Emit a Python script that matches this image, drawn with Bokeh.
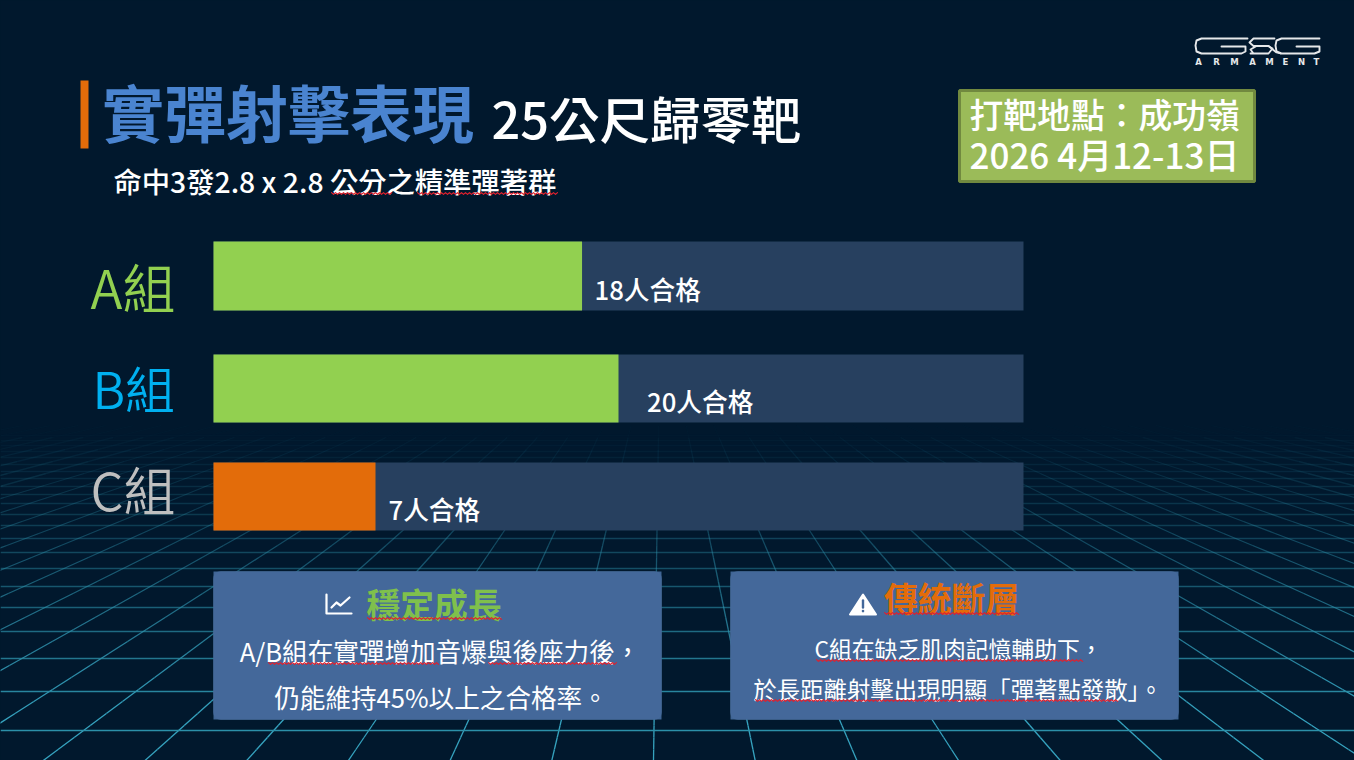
from bokeh.plotting import figure
from bokeh.embed import file_html
from bokeh.resources import INLINE
from bokeh.core.properties import value
from bokeh.models import Range1d, BoxAnnotation, GlobalInlineStyleSheet
import numpy as np

# ---- data ----
groups = ["A組", "B組", "C組"]
pass_share = [45.5, 50, 20]          # bar length, % of the track
track_total = [100, 100, 100]
pass_labels = ["18人合格", "20人合格", "7人合格"]
title_main = "實彈射擊表現"
title_sub = "25公尺歸零靶"
subtitle = "命中3發2.8 x 2.8 公分之精準彈著群"
place_lines = ["打靶地點：成功嶺", "2026 4月12-13日"]
panel_titles = ["穩定成長", "傳統斷層"]
panel_left_lines = ["A/B組在實彈增加音爆與後座力後，", "仍能維持45%以上之合格率。"]
panel_right_lines = ["C組在缺乏肌肉記憶輔助下，", "於長距離射擊出現明顯「彈著點發散」。"]

# ---- layout (pixels) ----
W, H = 1354, 760
BG = "#01182d"
FONT = value("Noto Sans CJK TC")
MEDIUM = value("Noto Sans CJK TC Medium")
DEMILIGHT = value("Noto Sans CJK TC DemiLight")
BAR_X0, BAR_X1 = 213, 1023
px_per = (BAR_X1 - BAR_X0) / 100
bar_y = [275.5, 388, 496]
bar_h = [69, 68, 68]
bar_colors = ["#92d050", "#92d050", "#e36c0a"]
label_colors = ["#92d050", "#00b0f0", "#bfbfbf"]

p = figure(width=W, height=H, output_backend="svg", toolbar_location=None,
           x_range=Range1d(-BAR_X0 / px_per, (W - BAR_X0) / px_per),
           y_range=Range1d(H, 0), x_axis_location=None, y_axis_location=None,
           min_border=0, background_fill_color=BG, border_fill_color=BG, outline_line_color=None)
p.grid.visible = False
p.extra_x_ranges = {"px": Range1d(0, W)}
p.stylesheets = [GlobalInlineStyleSheet(css="html,body{margin:0;padding:0;background:#01182d;overflow:hidden}")]


def text(x, y, s, size, color, bold=False, align="left", font=FONT):
    p.text([x], [y], text=[s], x_range_name="px", text_font=font, text_font_size=f"{size}px",
           text_color=color, text_align=align, text_baseline="middle",
           text_font_style="bold" if bold else "normal")


def poly(xs, ys, color, width, **kw):
    p.line(xs, ys, x_range_name="px", line_color=color, line_width=width, line_join="round", line_cap="round", **kw)


def rect(l, r, t, b, color, **kw):
    p.quad(left=[l], right=[r], top=[t], bottom=[b], x_range_name="px", fill_color=color, line_color=None, **kw)


def squiggle(x0, x1, y):
    xs = np.arange(x0, x1 + 0.1, 2.0)
    ys = y + np.where(np.arange(len(xs)) % 2 == 0, -0.9, 0.9)
    poly(list(xs), list(ys), "#e0202e", 1.2)


# ---- floor grid ----
VX, VY, SPACING = 660, 300, 101.7
grid_rows = [730, 691, 658, 631, 607, 586, 568, 552, 538, 525, 514, 503, 494, 486, 478, 471, 464, 457, 451, 445, 440, 435]


def fade(y):
    return float(np.clip((y - 425) / 290, 0, 1)) ** 1.1


gx, gy, ga = [], [], []
bands = np.linspace(425, 761, 29)
for k in np.arange(-33, 34):
    bottom_x = 653 + k * SPACING
    for a, b in zip(bands[:-1], bands[1:]):
        f = lambda y: VX + (bottom_x - VX) * (y - VY) / (H - VY)
        gx.append([f(a), f(b)])
        gy.append([a, b])
        ga.append(fade((a + b) / 2))
p.multi_line(gx, gy, x_range_name="px", line_color="#36a3bf", line_width=1.3, line_alpha=ga, level="image")
p.multi_line([[0, W] for _ in grid_rows], [[y, y] for y in grid_rows], x_range_name="px",
             line_color="#2c90a9", line_width=1.5, line_alpha=[fade(y) for y in grid_rows], level="image")

# ---- header ----
rect(80, 88, 80, 148, "#e36c0a")
text(101.5, 110, title_main, 62, "#4a84d0", True)
text(491, 116, title_sub, 50.5, "#ffffff", False, font=MEDIUM)
text(113, 180, subtitle, 28.3, "#ffffff", False, font=MEDIUM)
squiggle(331, 392, 193)
squiggle(417, 558, 193)

p.quad(left=[959], right=[1254], top=[90], bottom=[181], x_range_name="px", fill_color="#9bbb59",
       line_color="#71893f", line_width=3)
text(969, 113, place_lines[0], 33.8, "#ffffff", False, font=MEDIUM)
text(969, 153, place_lines[1], 35, "#ffffff", False, font=MEDIUM)

# ---- logo ----
LOGO = "#e6e8ea"
poly([1247, 1201, 1196, 1195, 1196, 1201, 1241, 1245, 1245, 1221], [38, 38, 40, 45, 51, 53, 53, 51, 46, 46], LOGO, 1.9)
poly([1274, 1253, 1249, 1253, 1268, 1276, 1280], [38, 38, 42, 45.5, 45.5, 52, 53], LOGO, 1.8)
poly([1250, 1253, 1268, 1272, 1268, 1256, 1250, 1253], [53, 53, 53, 48, 45.5, 45.5, 49, 53], LOGO, 1.8)
poly([1319, 1281, 1276, 1275, 1276, 1281, 1314, 1319, 1319, 1296], [38, 38, 40, 45, 51, 53, 53, 51, 46, 46], LOGO, 1.9)
for ch, x in zip("ARMAMENT", [1198, 1216, 1234, 1252, 1269, 1285, 1301, 1316]):
    text(x, 61.5, ch, 8.5, LOGO, True, "center", value("DejaVu Sans"))

# ---- bars ----
label_x0 = [90, 92, 90]
label_size = [53, 50, 52]
label_offset = [9.5, -2, -8]
for i in range(3):
    text(label_x0[i], bar_y[i] + label_offset[i], groups[i], label_size[i], label_colors[i], font=DEMILIGHT)
p.hbar(y=bar_y, right=track_total, left=0, height=bar_h, fill_color="#27405f", line_color=None)
p.hbar(y=bar_y, right=pass_share, left=0, height=bar_h, fill_color=bar_colors, line_color=None)
label_x = [594, 646.5, 388]
label_y = [288, 400, 508]
for i in range(3):
    text(label_x[i], label_y[i], pass_labels[i], 25.7, "#ffffff", False, font=MEDIUM)

# ---- panels ----
for l in (213, 730):
    rect(l, l + 448, 571, 719, "#3f6494", level="underlay")
    p.add_layout(BoxAnnotation(left=l, right=l + 448, top=571, bottom=719, x_range_name="px",
                               fill_color="#44689a", fill_alpha=1, line_color="#50749f", line_width=1,
                               border_radius=7, level="underlay"))

text(366, 603, panel_titles[0], 33.8, "#7fc04c", True)
text(883.5, 597, panel_titles[1], 33.8, "#e36c0a", True)
squiggle(367, 501, 618)
squiggle(884, 1019, 613)

# icons
poly([326, 326, 351], [594, 613, 613], "#ffffff", 2.2)
poly([331, 336, 340, 349], [607, 602, 605, 597], "#ffffff", 2.2)
p.patch([862.5, 849.5, 875.5], [594, 614, 614], x_range_name="px", fill_color="#ffffff",
        line_color="#ffffff", line_width=2, line_join="round")
poly([862.5, 862.5], [600, 607], "#44689a", 2.4)
poly([862.5, 862.5], [610.5, 610.6], "#44689a", 2.6)

text(439.5, 650, panel_left_lines[0], 25.6, "#ffffff", False, "center")
text(440.5, 696, panel_left_lines[1], 25.6, "#ffffff", False, "center")
squiggle(268, 439, 663)
squiggle(488, 616, 663)
text(958, 648, panel_right_lines[0], 22.8, "#ffffff", False, "center")
text(957.5, 688, panel_right_lines[1], 23.4, "#ffffff", False, "center")
squiggle(816, 1082, 660)
squiggle(755, 1117, 700)

open("out.html", "w").write(file_html(p, INLINE))
